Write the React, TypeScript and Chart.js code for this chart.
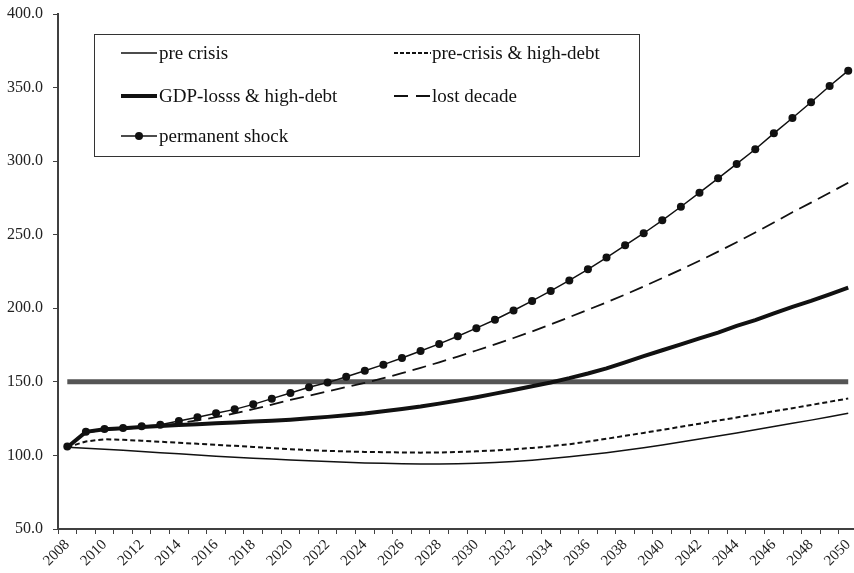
import React, { useEffect, useRef } from "react";
import { Chart, registerables } from "chart.js";

Chart.register(...registerables);

const years = [
  "2008", "2009", "2010", "2011", "2012", "2013", "2014", "2015", "2016", "2017",
  "2018", "2019", "2020", "2021", "2022", "2023", "2024", "2025", "2026", "2027",
  "2028", "2029", "2030", "2031", "2032", "2033", "2034", "2035", "2036", "2037",
  "2038", "2039", "2040", "2041", "2042", "2043", "2044", "2045", "2046", "2047",
  "2048", "2049", "2050",
];

const preCrisis = [
  105.5, 104.9, 104.2, 103.5, 102.7, 101.9, 101.1, 100.3, 99.5, 98.8,
  98.1, 97.5, 96.9, 96.3, 95.8, 95.3, 94.9, 94.6, 94.3, 94.2,
  94.2, 94.4, 94.7, 95.2, 95.9, 96.8, 97.9, 99.1, 100.4, 101.9,
  103.5, 105.2, 107.1, 109.1, 111.1, 113.2, 115.3, 117.4, 119.6, 121.8,
  124.0, 126.3, 128.7,
];

const preCrisisHighDebt = [
  105.5, 109.5, 111.0, 110.6, 110.0, 109.3, 108.6, 107.9, 107.2, 106.5,
  105.8, 105.0, 104.2, 103.6, 103.1, 102.7, 102.4, 102.2, 102.0, 101.9,
  102.0, 102.3, 102.8, 103.4, 104.2, 105.1, 106.3, 107.6, 109.4, 111.3,
  113.3, 115.3, 117.4, 119.5, 121.6, 123.7, 125.8, 127.9, 130.0, 132.1,
  134.3, 136.5, 138.7,
];

const gdpLossHighDebt = [
  105.5, 116.0, 117.8, 118.4, 119.3, 120.0, 120.6, 121.2, 121.8, 122.4,
  123.0, 123.6, 124.3, 125.2, 126.2, 127.3, 128.5, 130.0, 131.5, 133.2,
  135.2, 137.3, 139.6, 142.0, 144.5, 147.0, 149.6, 152.5, 155.7, 159.2,
  163.3, 167.5, 171.5, 175.5, 179.5, 183.5, 188.0, 192.0, 196.5, 201.0,
  205.0, 209.5, 214.0,
];

const lostDecade = [
  105.5, 115.5, 117.5, 118.0, 119.0, 120.0, 121.8, 123.8, 126.0, 128.5,
  131.5, 134.5, 137.7, 140.6, 143.5, 146.4, 149.3, 152.5, 155.9, 159.5,
  163.3, 167.2, 171.3, 175.5, 179.8, 184.3, 189.0, 194.0, 199.0, 204.0,
  209.3, 214.8, 220.5, 226.3, 232.3, 238.5, 244.9, 251.5, 258.3, 265.3,
  271.8, 278.5, 285.3,
];

const permanentShock = [
  106.0, 116.1, 118.0, 118.6, 119.8, 120.9, 123.4, 125.9, 128.6, 131.3,
  134.7, 138.6, 142.4, 146.3, 149.5, 153.5, 157.6, 161.7, 166.2, 171.0,
  175.8, 181.0, 186.5, 192.2, 198.5, 205.0, 211.8, 218.9, 226.5, 234.5,
  242.8, 251.0, 259.8, 269.0, 278.6, 288.3, 298.1, 308.1, 318.9, 329.3,
  340.0, 351.1, 361.5,
];

const threshold = [
  150, 150, 150, 150, 150, 150, 150, 150, 150, 150,
  150, 150, 150, 150, 150, 150, 150, 150, 150, 150,
  150, 150, 150, 150, 150, 150, 150, 150, 150, 150,
  150, 150, 150, 150, 150, 150, 150, 150, 150, 150,
  150, 150, 150,
];

const legendLabels = [
  "pre crisis",
  "pre-crisis & high-debt",
  "GDP-losss & high-debt",
  "lost decade",
  "permanent shock",
];

const SERIF = '"Liberation Serif", "Times New Roman", serif';
const INK = "#111111";
const AXIS = "#404040";

const legendPlugin = {
  id: "boxLegend",
  afterDraw(chart: any) {
    const ctx = chart.ctx;
    ctx.save();
    const bx = 94.5, by = 34.5, bw = 545, bh = 122;
    ctx.strokeStyle = "#333333";
    ctx.lineWidth = 1;
    ctx.setLineDash([]);
    ctx.strokeRect(bx, by, bw, bh);

    const rows = [53, 96, 136];
    const col1 = [121, 157, 159];
    const col2 = [394, 431, 432];
    const items = [
      { col: col1, row: rows[0], label: legendLabels[0], w: 1.5, dash: [] as number[], dot: false },
      { col: col2, row: rows[0], label: legendLabels[1], w: 2, dash: [4, 2], dot: false },
      { col: col1, row: rows[1], label: legendLabels[2], w: 4, dash: [] as number[], dot: false },
      { col: col2, row: rows[1], label: legendLabels[3], w: 2, dash: [14, 8], dot: false },
      { col: col1, row: rows[2], label: legendLabels[4], w: 1.5, dash: [] as number[], dot: true },
    ];
    ctx.font = "19px " + SERIF;
    ctx.textBaseline = "middle";
    ctx.textAlign = "left";
    for (const it of items) {
      ctx.beginPath();
      ctx.strokeStyle = INK;
      ctx.lineWidth = it.w;
      ctx.setLineDash(it.dash);
      ctx.moveTo(it.col[0], it.row);
      ctx.lineTo(it.col[1], it.row);
      ctx.stroke();
      ctx.setLineDash([]);
      if (it.dot) {
        ctx.beginPath();
        ctx.fillStyle = INK;
        ctx.arc((it.col[0] + it.col[1]) / 2, it.row, 4, 0, Math.PI * 2);
        ctx.fill();
      }
      ctx.fillStyle = INK;
      ctx.fillText(it.label, it.col[2], it.row + 1);
    }
    ctx.restore();
  },
};

export default function App() {
  const ref = useRef<HTMLCanvasElement | null>(null);

  useEffect(() => {
    if (!ref.current) return;
    const chart = new Chart(ref.current, {
      type: "line",
      data: {
        labels: years,
        datasets: [
          {
            label: "threshold",
            data: threshold,
            borderColor: "#555555",
            borderWidth: 5,
            pointRadius: 0,
            order: 6,
          },
          {
            label: legendLabels[0],
            data: preCrisis,
            borderColor: INK,
            borderWidth: 1.5,
            pointRadius: 0,
            order: 5,
          },
          {
            label: legendLabels[1],
            data: preCrisisHighDebt,
            borderColor: INK,
            borderWidth: 2,
            borderDash: [5, 3],
            pointRadius: 0,
            order: 4,
          },
          {
            label: legendLabels[2],
            data: gdpLossHighDebt,
            borderColor: INK,
            borderWidth: 4,
            pointRadius: 0,
            order: 3,
          },
          {
            label: legendLabels[3],
            data: lostDecade,
            borderColor: INK,
            borderWidth: 1.8,
            borderDash: [14, 7],
            pointRadius: 0,
            order: 2,
          },
          {
            label: legendLabels[4],
            data: permanentShock,
            borderColor: INK,
            borderWidth: 1.5,
            pointRadius: 4,
            pointBackgroundColor: INK,
            pointBorderColor: INK,
            pointBorderWidth: 0,
            order: 1,
          },
        ],
      },
      options: {
        responsive: false,
        animation: false,
        events: [],
        layout: { padding: { top: 14, right: 4, left: 0, bottom: 0 } },
        elements: { line: { tension: 0 } },
        plugins: {
          legend: { display: false },
          tooltip: { enabled: false },
        },
        scales: {
          x: {
            type: "category",
            offset: true,
            grid: {
              offset: true,
              drawOnChartArea: false,
              drawTicks: true,
              tickLength: 5,
              color: AXIS,
              lineWidth: 1,
            },
            border: { display: true, color: AXIS, width: 2 },
            ticks: {
              autoSkip: false,
              minRotation: 45,
              maxRotation: 45,
              padding: 2,
              color: "#222222",
              font: { family: SERIF, size: 15 },
              callback: (_v: any, i: number) => (i % 2 === 0 ? years[i] : ""),
            },
            afterFit: (s: any) => {
              s.height = 44;
            },
          },
          y: {
            min: 50,
            max: 400,
            grid: {
              drawOnChartArea: false,
              drawTicks: true,
              tickLength: 5,
              color: AXIS,
            },
            border: { display: true, color: AXIS, width: 2 },
            ticks: {
              stepSize: 50,
              padding: 10,
              color: "#222222",
              font: { family: SERIF, size: 16 },
              callback: (v: any) => Number(v).toFixed(1),
            },
            afterFit: (s: any) => {
              s.width = 58;
              s.paddingTop = 0;
              s.paddingBottom = 0;
            },
          },
        },
      },
      plugins: [legendPlugin],
    });
    return () => chart.destroy();
  }, []);

  return (
    <div style={{ position: "fixed", left: 0, top: 0, width: 854, height: 573, overflow: "hidden", background: "#fff" }}>
      <canvas ref={ref} width={863} height={573} style={{ display: "block" }} />
    </div>
  );
}
